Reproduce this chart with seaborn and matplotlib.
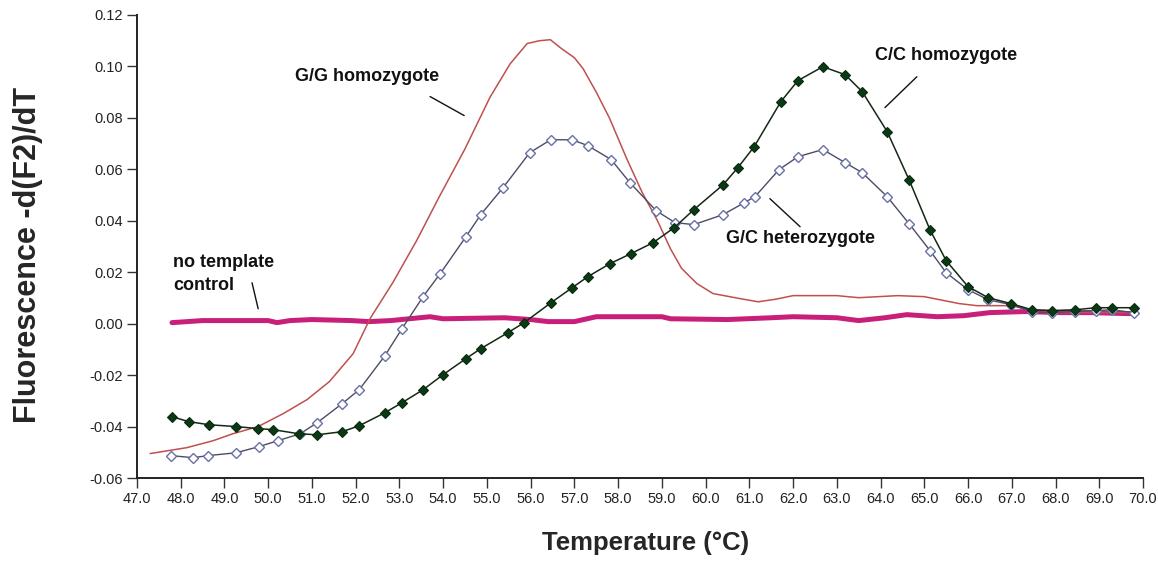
import numpy as np
import pandas as pd
import matplotlib
matplotlib.use("Agg")
import matplotlib.pyplot as plt
import seaborn as sns
from matplotlib.ticker import FormatStrFormatter, MultipleLocator

# ---------------- data ----------------
cc_T = [47.80, 48.19, 48.65, 49.26, 49.77, 50.11, 50.70, 51.12, 51.69, 52.08,
        52.67, 53.06, 53.54, 54.00, 54.52, 54.86, 55.48, 55.85, 56.47, 56.95,
        57.31, 57.81, 58.29, 58.80, 59.28, 59.73, 60.40, 60.74, 61.11, 61.72,
        62.11, 62.68, 63.19, 63.58, 64.15, 64.65, 65.13, 65.50, 66.00, 66.46,
        66.98, 67.46, 67.92, 68.45, 68.92, 69.29, 69.79]
cc_v = [-0.0362, -0.0381, -0.0393, -0.0400, -0.0408, -0.0412, -0.0428, -0.0432, -0.0420, -0.0397,
        -0.0346, -0.0307, -0.0257, -0.0198, -0.0136, -0.0097, -0.0035, 0.0004, 0.0082, 0.0140,
        0.0183, 0.0233, 0.0272, 0.0315, 0.0373, 0.0443, 0.0540, 0.0607, 0.0688, 0.0863,
        0.0945, 0.0999, 0.0968, 0.0902, 0.0747, 0.0560, 0.0365, 0.0245, 0.0144, 0.0101,
        0.0078, 0.0054, 0.0051, 0.0054, 0.0062, 0.0062, 0.0062]

gc_T = [47.78, 48.28, 48.62, 49.26, 49.79, 50.22, 50.73, 51.12, 51.69, 52.08,
        52.67, 53.06, 53.54, 53.93, 54.52, 54.86, 55.37, 55.98, 56.46, 56.95,
        57.31, 57.84, 58.27, 58.87, 59.30, 59.73, 60.40, 60.88, 61.13, 61.68,
        62.11, 62.68, 63.19, 63.58, 64.15, 64.65, 65.13, 65.50, 66.00, 66.46,
        66.98, 67.46, 67.92, 68.45, 68.92, 69.29, 69.79]
gc_v = [-0.0513, -0.0521, -0.0513, -0.0502, -0.0478, -0.0455, -0.0428, -0.0385, -0.0311, -0.0257,
        -0.0124, -0.0019, 0.0105, 0.0194, 0.0338, 0.0424, 0.0529, 0.0665, 0.0715, 0.0715,
        0.0692, 0.0638, 0.0548, 0.0439, 0.0393, 0.0385, 0.0424, 0.0470, 0.0494, 0.0599,
        0.0649, 0.0677, 0.0626, 0.0587, 0.0494, 0.0389, 0.0284, 0.0198, 0.0132, 0.0093,
        0.0074, 0.0047, 0.0043, 0.0047, 0.0051, 0.0054, 0.0043]

gg_T = [47.30, 48.14, 48.74, 49.19, 49.77, 50.34, 50.89, 51.40, 51.94, 52.33,
        52.85, 53.40, 53.90, 54.50, 55.07, 55.53, 55.92, 56.20, 56.45, 56.70,
        57.00, 57.20, 57.50, 57.80, 58.20, 58.55, 58.90, 59.20, 59.45, 59.80,
        60.17, 60.80, 61.20, 61.60, 62.00, 63.00, 63.50, 64.40, 65.00, 65.80,
        66.20, 67.00, 67.50, 68.10, 69.77]
gg_v = [-0.0505, -0.0482, -0.0455, -0.0428, -0.0400, -0.0350, -0.0295, -0.0225, -0.0117, 0.0020,
        0.0160, 0.0325, 0.0490, 0.0680, 0.0880, 0.1010, 0.1089, 0.1100, 0.1104, 0.1070,
        0.1034, 0.0991, 0.0900, 0.0800, 0.0640, 0.0510, 0.0400, 0.0290, 0.0215, 0.0156,
        0.0117, 0.0097, 0.0085, 0.0095, 0.0109, 0.0109, 0.0101, 0.0109, 0.0105, 0.0078,
        0.0070, 0.0070, 0.0050, 0.0043, 0.0043]

ntc_T = [47.80, 48.50, 50.00, 50.20, 50.50, 51.00, 51.90, 52.30, 52.80, 53.70,
         54.00, 55.40, 56.00, 56.40, 57.00, 57.50, 59.00, 59.20, 60.50, 61.50,
         62.00, 63.00, 63.50, 64.10, 64.60, 65.30, 65.90, 66.50, 67.30, 68.10,
         68.80, 69.70]
ntc_v = [0.0004, 0.0012, 0.0012, 0.0004, 0.0012, 0.0016, 0.0012, 0.0008, 0.0012, 0.0027,
         0.0019, 0.0023, 0.0016, 0.0008, 0.0008, 0.0027, 0.0027, 0.0019, 0.0016, 0.0023,
         0.0027, 0.0023, 0.0012, 0.0023, 0.0035, 0.0027, 0.0031, 0.0043, 0.0047, 0.0043,
         0.0043, 0.0039]

x_ticks = np.arange(47, 71, 1)
y_ticks = np.arange(-0.06, 0.1201, 0.02)

# ---------------- style ----------------
sns.set_style("white")
plt.rcParams["font.family"] = ["Liberation Sans", "DejaVu Sans"]
plt.rcParams["axes.unicode_minus"] = False

fig = plt.figure(figsize=(11.58, 5.63), dpi=100)
ax = fig.add_axes([137 / 1158, 85 / 563, (1143 - 137) / 1158, (548 - 85) / 563])

sns.lineplot(x=ntc_T, y=ntc_v, ax=ax, color="#c8207a", linewidth=3.6,
             estimator=None, sort=False)
sns.lineplot(x=gg_T, y=gg_v, ax=ax, color="#c05050", linewidth=1.1,
             estimator=None, sort=False)
sns.lineplot(x=gc_T, y=gc_v, ax=ax, color="#4c4c66", linewidth=1.0,
             marker="D", markersize=5, markerfacecolor="white",
             markeredgecolor="#6870a8", markeredgewidth=1.0,
             estimator=None, sort=False)
sns.lineplot(x=cc_T, y=cc_v, ax=ax, color="#142814", linewidth=1.1,
             marker="D", markersize=5, markerfacecolor="#0a3a14",
             markeredgecolor="#0a2a10", markeredgewidth=0.8,
             estimator=None, sort=False)

ax.set_xlim(47, 70)
ax.set_ylim(-0.06, 0.12)
ax.set_xticks(x_ticks)
ax.set_yticks(y_ticks)
ax.xaxis.set_major_formatter(FormatStrFormatter("%.1f"))
ax.yaxis.set_major_formatter(FormatStrFormatter("%.2f"))
ax.tick_params(axis="both", which="major", direction="out", length=7, width=1,
               color="#333333", labelsize=10.5, labelcolor="#222222", pad=3,
               left=True, bottom=True)

for s in ["top", "right"]:
    ax.spines[s].set_visible(False)
for s in ["left", "bottom"]:
    ax.spines[s].set_color("#222222")
    ax.spines[s].set_linewidth(1.4)

ax.set_xlabel("Temperature (°C)", fontsize=18.5, fontweight="bold")
ax.set_ylabel("Fluorescence -d(F2)/dT", fontsize=22, fontweight="bold")
ax.xaxis.label.set_va("center")
ax.yaxis.label.set_va("center")
ax.xaxis.set_label_coords((646 - 137) / 1006, -(543 - 478) / 463)
ax.yaxis.set_label_coords(-(137 - 28) / 1006, (478 - 255) / 463)

# annotations
afs = 13
ax.text(50.61, 0.0960, "G/G homozygote", fontsize=afs, fontweight="bold",
        ha="left", va="center", color="#111111")
ax.plot([53.70, 54.48], [0.0883, 0.0809], color="#111111", linewidth=1.0)

ax.text(63.87, 0.1042, "C/C homozygote", fontsize=afs, fontweight="bold",
        ha="left", va="center", color="#111111")
ax.plot([64.83, 64.10], [0.0960, 0.0840], color="#111111", linewidth=1.0)

ax.text(60.47, 0.0330, "G/C heterozygote", fontsize=afs, fontweight="bold",
        ha="left", va="center", color="#111111")
ax.plot([61.47, 62.16], [0.0486, 0.0377], color="#111111", linewidth=1.0)

ax.text(47.82, 0.0237, "no template", fontsize=afs, fontweight="bold",
        ha="left", va="center", color="#111111")
ax.text(47.82, 0.0148, "control", fontsize=afs, fontweight="bold",
        ha="left", va="center", color="#111111")
ax.plot([49.63, 49.77], [0.0159, 0.0058], color="#111111", linewidth=1.0)

fig.savefig("out.png", dpi=100, facecolor="white")
